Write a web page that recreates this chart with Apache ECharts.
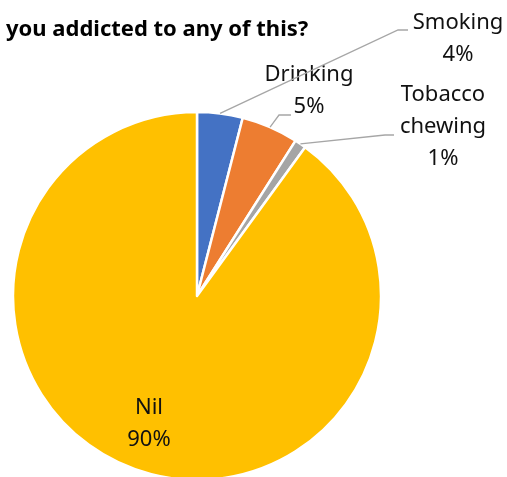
<!DOCTYPE html>
<html>
<head>
<meta charset="utf-8">
<script src="https://cdn.jsdelivr.net/npm/echarts@6/dist/echarts.min.js"></script>
<style>
  html, body { margin: 0; padding: 0; background: #fff; }
  #chart { width: 507px; height: 477px; }
</style>
</head>
<body>
<div id="chart"></div>
<script>
// Survey answers: share of respondents per habit (percent)
const categories = ['Smoking', 'Drinking', 'Tobacco\nchewing', 'Nil'];
const shares = [4, 5, 1, 90];
const sliceColors = ['#4472C4', '#ED7D31', '#A5A5A5', '#FFC000'];
const titleText = 'you addicted to any of this?';

// Pie geometry
const CX = 197, CY = 296, R = 184;

// Where each label block is centred
const labelSpots = [
  { x: 458, y: 39 },
  { x: 309, y: 91 },
  { x: 443, y: 127 },
  { x: 149, y: 424 }
];
// Where each leader line bends before the label (null = no leader)
const leaderBends = [
  [[398, 30], [408, 30]],
  [[279, 115], [291, 115]],
  [[385, 135], [394, 135]],
  null
];

const chart = echarts.init(document.getElementById('chart'));

// Mid-angle point on the rim of each slice (clockwise from 12 o'clock)
const total = shares.reduce((a, b) => a + b, 0);
function rimPoint(i) {
  let before = 0;
  for (let k = 0; k < i; k++) before += shares[k];
  const mid = (before + shares[i] / 2) / total * 2 * Math.PI;
  return [CX + R * Math.sin(mid), CY - R * Math.cos(mid)];
}

const leaders = [];
shares.forEach((v, i) => {
  if (!leaderBends[i]) return;
  leaders.push({
    type: 'polyline',
    silent: true,
    z: 10,
    shape: { points: [rimPoint(i)].concat(leaderBends[i]) },
    style: { stroke: '#A6A6A6', lineWidth: 1.3, fill: null }
  });
});

chart.setOption({
  animation: false,
  backgroundColor: '#fff',
  title: {
    text: titleText,
    left: 1,
    top: 14,
    textStyle: {
      fontFamily: 'Noto Sans',
      fontWeight: 'bold',
      fontSize: 22,
      color: '#000'
    }
  },
  graphic: leaders,
  series: [{
    type: 'pie',
    center: [CX, CY],
    radius: [0, R],
    startAngle: 90,
    clockwise: true,
    avoidLabelOverlap: false,
    itemStyle: { borderColor: '#fff', borderWidth: 2.5 },
    label: {
      show: true,
      formatter: p => p.name + '\n' + p.value + '%',
      fontFamily: 'Noto Sans',
      fontSize: 22,
      lineHeight: 32,
      color: '#111',
      align: 'center'
    },
    labelLine: { show: false },
    labelLayout: p => ({
      x: labelSpots[p.dataIndex].x,
      y: labelSpots[p.dataIndex].y,
      align: 'center',
      verticalAlign: 'middle'
    }),
    data: categories.map((c, i) => ({
      name: c,
      value: shares[i],
      itemStyle: { color: sliceColors[i] }
    }))
  }]
});
</script>
</body>
</html>
